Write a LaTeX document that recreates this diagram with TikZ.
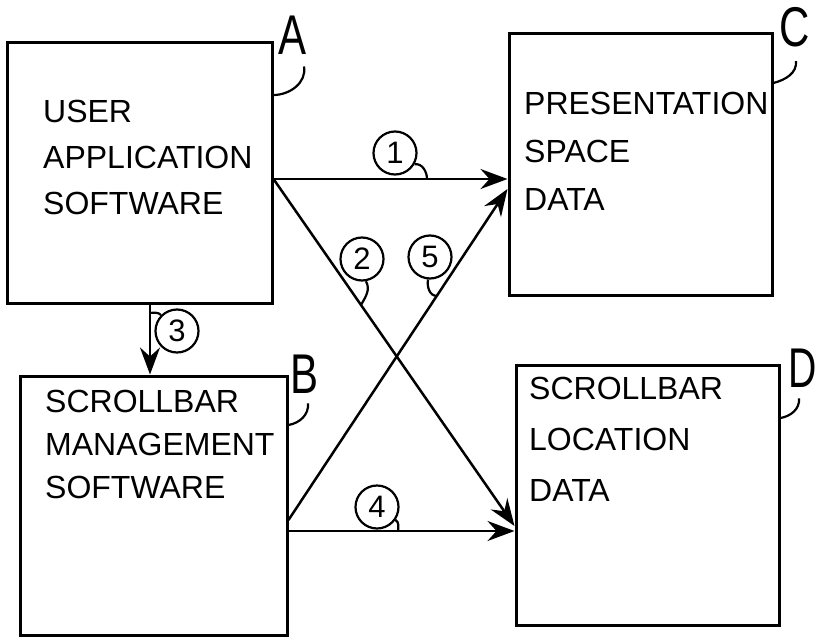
\documentclass[tikz,border=0pt]{standalone}
\usepackage{fontspec}
\setmainfont{Liberation Sans}
\usetikzlibrary{arrows.meta}

\begin{document}
\begin{tikzpicture}[x=1pt,y=-1pt,
        box/.style={shape=rectangle,draw=black,line width=3pt,inner sep=0pt},
        boxtext/.style={anchor=north west,align=left,inner sep=0pt,font=\fontsize{32}{#1}\selectfont},
        tag/.style={inner sep=0pt,font=\fontsize{56}{56}\selectfont},
        num/.style={shape=circle,draw=black,line width=2.2pt,inner sep=0pt,minimum size=43pt,font=\fontsize{31}{31}\selectfont},
        arw/.style={-{Stealth[length=27pt,width=20pt,inset=9pt]},line width=2.5pt},
        hook/.style={line width=2.2pt},
        tail/.style={coordinate}]
        \useasboundingbox (0,0) rectangle (819,637);

        \node[box,minimum width=265pt,minimum height=261pt] (A) at (139.5,172.5) {};
        \node[box,minimum width=263pt,minimum height=262pt] (C) at (640.5,164) {};
        \node[box,minimum width=267pt,minimum height=259pt] (B) at (153.5,505.5) {};
        \node[box,minimum width=263pt,minimum height=260pt] (D) at (647.5,495) {};

        \node[boxtext=46] (tA) at (43,100) {USER\\APPLICATION\\SOFTWARE};
        \node[boxtext=48] (tC) at (524,92) {PRESENTATION\\SPACE\\DATA};
        \node[boxtext=43] (tB) at (45,390) {SCROLLBAR\\MANAGEMENT\\SOFTWARE};
        \node[boxtext=51] (tD) at (529,377) {SCROLLBAR\\LOCATION\\DATA};

        % letters squeezed like the hand lettering
        \node[tag] (lA) at (293,35) {\scalebox{.75}[1]{A}};
        \node[tag] (lC) at (795,27) {\scalebox{.75}[1]{C}};
        \node[tag] (lB) at (305,374) {\scalebox{.75}[1]{B}};
        \node[tag] (lD) at (803,368) {\scalebox{.7}[1]{D}};

        \draw[hook] ([yshift=77.5pt]A.east) to[out=0,in=-80] ([xshift=11pt,yshift=-12pt]lA.south);
        \draw[hook] ([yshift=81pt]C.east) to[out=15,in=-85] ([xshift=1pt,yshift=-14pt]lC.south);
        \draw[hook] ([yshift=80.5pt]B.east) to[out=10,in=-85] ([xshift=3pt,yshift=-10pt]lB.south);
        \draw[hook] ([yshift=77pt]D.east) to[out=10,in=-85] ([xshift=-4pt,yshift=-11pt]lD.south);

        \path [arw] ([yshift=-6.5pt]A.east) edge node[tail,pos=.656] (t1) {} ([yshift=-15pt]C.west);
        \path [arw] ([yshift=-6.5pt]A.east) edge node[tail,pos=.363] (t2) {} ([yshift=-31pt]D.west);
        \path [arw] ([xshift=10.5pt]A.south) edge node[tail,pos=.12] (t3) {} ([xshift=-3.5pt]B.north);
        \path [arw] ([yshift=-25.5pt]B.east) edge node[tail,pos=.485] (t4) {} ([yshift=-36pt]D.west);
        \path [arw] ([yshift=-14.5pt]B.east) edge node[tail,pos=.677] (t5) {} ([yshift=-25pt]C.west);

        \node[num] (n1) at (395,153) {1};
        \node[num] (n2) at (362,259) {2};
        \node[num] (n3) at (177,331) {3};
        \node[num] (n4) at (377,507) {4};
        \node[num] (n5) at (430,257) {5};

        \draw[hook] (n1.-30) to[out=10,in=90] (t1);
        \draw[hook] (n2.-80) to[out=-60,in=60] (t2);
        \draw[hook] (t3) to[out=0,in=135] (n3.135);
        \draw[hook] (n4.-35) to[out=-30,in=90] (t4);
        \draw[hook] (n5.-95) to[out=-100,in=180] (t5);
    \end{tikzpicture}
\end{document}
